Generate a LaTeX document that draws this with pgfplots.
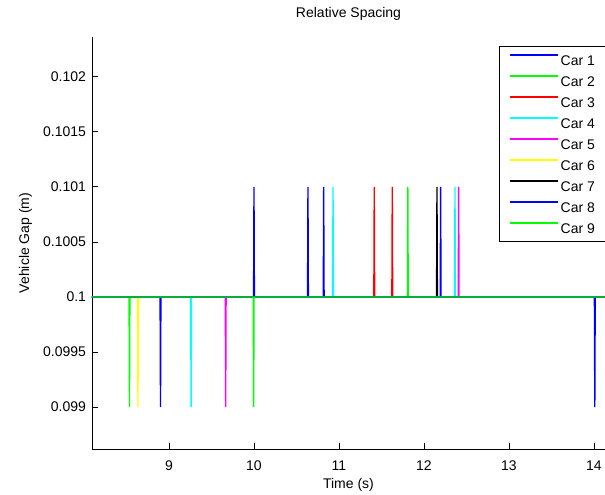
\documentclass[border=0pt]{standalone}
\usepackage{fontspec}
\setmainfont{Liberation Sans}
\usepackage{pgfplots}
\pgfplotsset{compat=1.18}
\definecolor{mblue}{rgb}{0,0,1}
\definecolor{mgreen}{rgb}{0,1,0}
\definecolor{mred}{rgb}{1,0,0}
\definecolor{mcyan}{rgb}{0,1,1}
\definecolor{mmag}{rgb}{1,0,1}
\definecolor{myel}{rgb}{1,1,0}
\begin{document}
\begin{tikzpicture}
\begin{axis}[
  name=ax, at={(0,0)}, anchor=south west,
  scale only axis, width=384.75bp, height=309bp,
  xmin=8.094, xmax=14.13, ymin=0.09862, ymax=0.10236,
  axis x line*=bottom, axis y line*=left,
  axis line style={black, line width=0.5bp},
  x axis line style={-}, y axis line style={-},
  tick align=inside, major tick length=4.5bp,
  tick style={black, line width=0.5bp},
  xtick={9,10,11,12,13,14},
  xticklabels={9,10,11,12,13,14},
  ytick={0.099,0.0995,0.1,0.1005,0.101,0.1015,0.102},
  yticklabels={0.099,0.0995,0.1,0.1005,0.101,0.1015,0.102},
  /pgf/number format/assume math mode=true,
  every tick label/.append style={font=\fontsize{10.5bp}{12bp}\selectfont},
  xticklabel style={yshift=-5.5bp},
  yticklabel style={xshift=-1bp},
  title={Relative Spacing},
  title style={font=\fontsize{10.5bp}{12bp}\selectfont, yshift=3bp},
  xlabel={Time (s)},
  ylabel={Vehicle Gap (m)},
  label style={font=\fontsize{10.5bp}{12bp}\selectfont},
  xlabel style={yshift=1.5bp},
  ylabel style={yshift=1.5bp},
  legend style={at={(rel axis cs:0.7934,0.978)}, anchor=north west, draw=black, line width=0.6bp, fill=white,
    font=\fontsize{10.5bp}{12bp}\selectfont, row sep=5.25bp, inner xsep=7.5bp, inner ysep=5bp,
    nodes={inner sep=1.5bp, text height=7.5bp, text depth=0bp}},
  legend cell align=left,
  legend image code/.code={\draw[#1, line width=1bp] (0bp,3.75bp) -- (36bp,3.75bp);},
  every axis plot/.append style={line width=1bp},
]
\addplot[mblue] coordinates {(8.0,0.1)(8.895,0.1)(8.90,0.099)(8.905,0.1)(9.995,0.1)(10.0,0.101)(10.005,0.1)(10.63,0.1)(10.635,0.101)(10.64,0.1)(14.2,0.1)};
\addlegendentry{Car 1}
\addplot[mgreen] coordinates {(8.0,0.1)(8.53,0.1)(8.535,0.099)(8.54,0.1)(11.805,0.1)(11.81,0.101)(11.815,0.1)(14.2,0.1)};
\addlegendentry{Car 2}
\addplot[mred] coordinates {(8.0,0.1)(11.41,0.1)(11.415,0.101)(11.42,0.1)(11.622,0.1)(11.627,0.101)(11.632,0.1)(14.2,0.1)};
\addlegendentry{Car 3}
\addplot[mcyan] coordinates {(8.0,0.1)(9.255,0.1)(9.26,0.099)(9.265,0.1)(10.925,0.1)(10.93,0.101)(10.935,0.1)(12.36,0.1)(12.365,0.101)(12.37,0.1)(14.2,0.1)};
\addlegendentry{Car 4}
\addplot[mmag] coordinates {(8.0,0.1)(9.662,0.1)(9.667,0.099)(9.672,0.1)(12.403,0.1)(12.408,0.101)(12.413,0.1)(14.2,0.1)};
\addlegendentry{Car 5}
\addplot[myel] coordinates {(8.0,0.1)(8.63,0.1)(8.635,0.099)(8.64,0.1)(14.2,0.1)};
\addlegendentry{Car 6}
\addplot[black] coordinates {(8.0,0.1)(12.148,0.1)(12.153,0.101)(12.158,0.1)(14.2,0.1)};
\addlegendentry{Car 7}
\addplot[mblue] coordinates {(8.0,0.1)(10.815,0.1)(10.82,0.101)(10.825,0.1)(12.191,0.1)(12.196,0.101)(12.201,0.1)(14.005,0.1)(14.01,0.099)(14.015,0.1)(14.2,0.1)};
\addlegendentry{Car 8}
\addplot[mgreen] coordinates {(8.0,0.1)(9.991,0.1)(9.996,0.099)(10.001,0.1)(14.2,0.1)};
\addlegendentry{Car 9}
\end{axis}
\pgfresetboundingbox
\path (-69bp,-34.5bp) rectangle (384.75bp,336.75bp);
\end{tikzpicture}
\end{document}
